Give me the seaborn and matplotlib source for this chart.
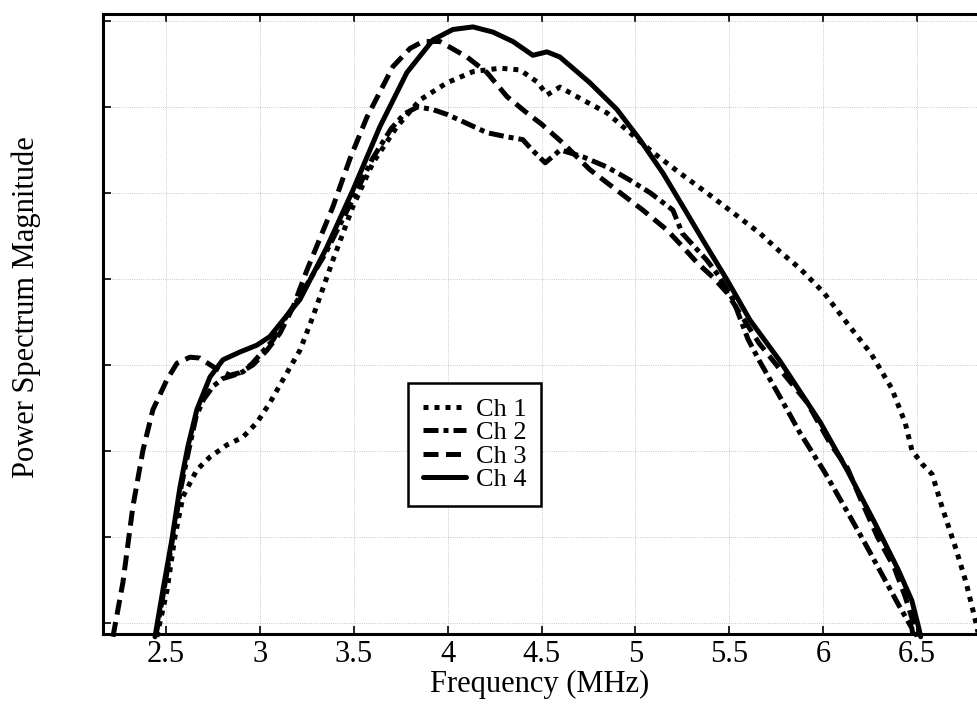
import matplotlib
matplotlib.use("Agg")
import matplotlib.pyplot as plt
import seaborn as sns

# Values (y in grid units, 0 = lowest grid line)
ch1_freq = [2.451, 2.505, 2.547, 2.59, 2.664, 2.734, 2.824, 2.909, 2.984, 3.053, 3.123, 3.213,
            3.282, 3.389, 3.495, 3.602, 3.73, 3.852, 3.996, 4.135, 4.279, 4.386, 4.477, 4.53,
            4.598, 4.721, 4.849, 4.971, 5.094, 5.238, 5.381, 5.52, 5.664, 5.769, 5.877, 6.004,
            6.13, 6.256, 6.365, 6.437, 6.473, 6.527, 6.581, 6.635, 6.708, 6.762, 6.816, 6.83]
ch1_mag = [-0.16, 0.38, 1.0, 1.47, 1.78, 1.93, 2.07, 2.16, 2.33, 2.56, 2.83, 3.17,
           3.56, 4.22, 4.84, 5.35, 5.77, 6.08, 6.28, 6.41, 6.45, 6.43, 6.29, 6.14,
           6.23, 6.08, 5.93, 5.70, 5.47, 5.23, 5.0, 4.77, 4.53, 4.32, 4.12, 3.84,
           3.48, 3.13, 2.73, 2.33, 2.01, 1.85, 1.73, 1.34, 0.86, 0.47, -0.01, -0.16]

ch2_freq = [2.445, 2.49, 2.535, 2.58, 2.62, 2.66, 2.70, 2.75, 2.80, 2.86, 2.91, 2.96, 3.07,
            3.14, 3.2, 3.35, 3.5, 3.6, 3.7, 3.77, 3.84, 3.92, 4.0, 4.1, 4.21, 4.32, 4.40,
            4.45, 4.52, 4.6, 4.72, 4.85, 4.97, 5.08, 5.2, 5.25, 5.38, 5.45, 5.52, 5.6,
            5.66, 5.77, 5.877, 6.004, 6.13, 6.23, 6.33, 6.40, 6.473, 6.48]
ch2_mag = [-0.16, 0.4, 0.98, 1.58, 2.0, 2.4, 2.6, 2.75, 2.84, 2.88, 2.92, 3.02, 3.29,
           3.56, 3.75, 4.3, 4.95, 5.4, 5.75, 5.92, 6.0, 5.97, 5.91, 5.81, 5.70, 5.65, 5.62,
           5.50, 5.35, 5.50, 5.42, 5.30, 5.15, 5.0, 4.80, 4.53, 4.22, 4.02, 3.76, 3.3,
           3.05, 2.63, 2.21, 1.77, 1.29, 0.90, 0.50, 0.22, -0.06, -0.16]

ch3_freq = [2.217, 2.27, 2.323, 2.377, 2.43, 2.505, 2.558, 2.627, 2.68, 2.75, 2.84, 2.893,
            2.963, 3.037, 3.107, 3.176, 3.25, 3.389, 3.48, 3.57, 3.709, 3.80, 3.868, 3.959,
            4.103, 4.209, 4.316, 4.422, 4.50, 4.614, 4.758, 4.902, 5.04, 5.168, 5.254, 5.328,
            5.413, 5.488, 5.557, 5.66, 5.77, 5.913, 6.04, 6.13, 6.20, 6.29, 6.38, 6.437, 6.49, 6.5]
ch3_mag = [-0.16, 0.47, 1.35, 2.01, 2.48, 2.83, 3.02, 3.09, 3.08, 2.98, 2.88, 2.91,
           3.0, 3.17, 3.37, 3.67, 4.1, 4.84, 5.4, 5.88, 6.47, 6.68, 6.76, 6.76,
           6.58, 6.40, 6.12, 5.93, 5.80, 5.58, 5.27, 5.03, 4.80, 4.57, 4.37, 4.19,
           4.02, 3.84, 3.60, 3.25, 2.95, 2.57, 2.08, 1.80, 1.44, 1.00, 0.64, 0.31, -0.06, -0.16]

ch4_freq = [2.441, 2.483, 2.531, 2.574, 2.616, 2.664, 2.734, 2.803, 2.893, 2.984, 3.053, 3.123,
            3.213, 3.357, 3.495, 3.639, 3.783, 3.922, 4.028, 4.135, 4.241, 4.348, 4.454, 4.529,
            4.598, 4.758, 4.902, 5.024, 5.147, 5.254, 5.36, 5.488, 5.611, 5.769, 5.986, 6.13,
            6.274, 6.40, 6.473, 6.51, 6.52]
ch4_mag = [-0.16, 0.38, 0.97, 1.58, 2.05, 2.48, 2.86, 3.06, 3.15, 3.23, 3.33, 3.52,
           3.76, 4.37, 5.03, 5.77, 6.40, 6.78, 6.90, 6.93, 6.87, 6.76, 6.60, 6.64,
           6.58, 6.28, 5.97, 5.62, 5.23, 4.84, 4.45, 3.99, 3.52, 3.05, 2.33, 1.77,
           1.17, 0.62, 0.26, -0.06, -0.16]

x_ticks = [2.5, 3, 3.5, 4, 4.5, 5, 5.5, 6, 6.5]
x_ticklabels = ["2.5", "3", "3.5", "4", "4.5", "5", "5.5", "6", "6.5"]

sns.set_style("ticks")
plt.rcParams['font.family'] = ['Liberation Serif', 'DejaVu Serif']
plt.rcParams['text.color'] = 'black'
plt.rcParams['axes.labelcolor'] = 'black'

fig = plt.figure(figsize=(9.77, 7.15), dpi=100)
ax = fig.add_axes([103 / 977, 1 - 634 / 715, 874 / 977, 620 / 715])

lw = 3.6
channels = [
    ("Ch 1", ch1_freq, ch1_mag, (0, (1.0, 1.2))),
    ("Ch 2", ch2_freq, ch2_mag, (0, (3.0, 1.0, 1.0, 1.0))),
    ("Ch 3", ch3_freq, ch3_mag, (0, (3.0, 1.5))),
    ("Ch 4", ch4_freq, ch4_mag, "-"),
]
for name, fx, my, ls in channels:
    sns.lineplot(x=fx, y=my, ax=ax, color="black", linewidth=lw, linestyle=ls,
                 label=name, sort=False, clip_on=False)

ax.set_xlim(2.164, 6.82)
ax.set_ylim(-0.128, 7.08)
ax.set_xticks(x_ticks)
ax.set_xticklabels(x_ticklabels)
ax.set_yticks(range(8))
ax.set_yticklabels([])
ax.grid(True, color="0.72", linestyle=":", linewidth=0.6)
ax.tick_params(direction="in", length=6, width=1.2, top=True, right=False,
               labelsize=22, pad=4, colors="black")

for side in ["left", "bottom", "top"]:
    ax.spines[side].set_linewidth(2.2)
    ax.spines[side].set_color("black")
ax.spines["right"].set_visible(False)

ax.set_xlabel("Frequency (MHz)", fontsize=22, labelpad=1)
ax.set_ylabel("Power Spectrum Magnitude", fontsize=22)
ax.yaxis.set_label_coords(-0.071, 0.527)

leg = ax.legend(loc="upper left", bbox_to_anchor=((408 - 103) / 874, (634 - 383) / 620),
                borderaxespad=0, fontsize=19, handlelength=1.63, handletextpad=0.38,
                labelspacing=0.0, borderpad=0.55, fancybox=False, framealpha=1,
                edgecolor="black")
leg.get_frame().set_linewidth(1.8)

fig.savefig("out.png", dpi=100)
